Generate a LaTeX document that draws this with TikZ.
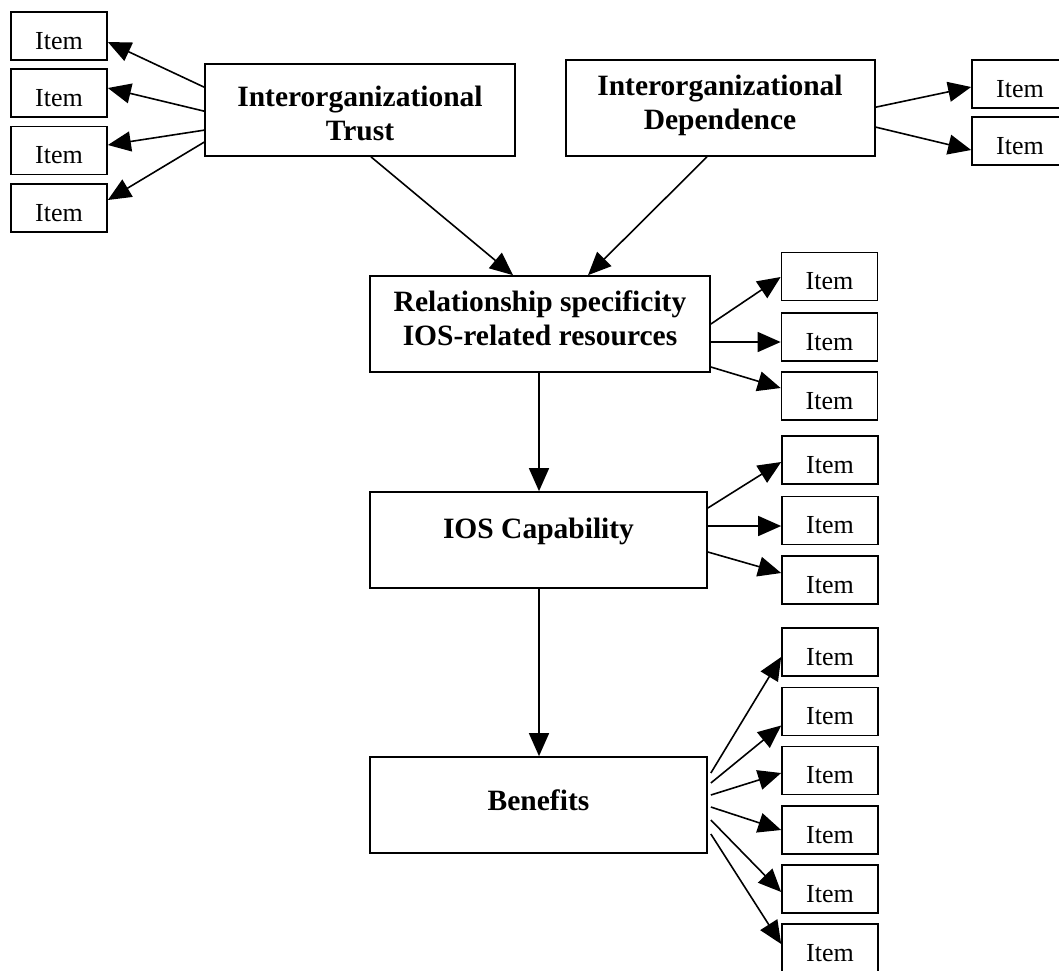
\documentclass[tikz,border=0pt]{standalone}
\usepackage{fontspec}
\setmainfont{Liberation Serif}
\usetikzlibrary{arrows.meta,calc}
\begin{document}
\begin{tikzpicture}[x=1pt,y=-1pt,
  box/.style={draw, line width=1.7pt, rectangle, inner sep=0pt},
  item/.style={box, minimum width=96pt, minimum height=48pt,
    font=\fontsize{26}{30}\selectfont, text height=26pt, text depth=0pt},
  btext/.style={font=\bfseries\fontsize{29.5}{34}\selectfont, anchor=base, inner sep=0pt},
  arr/.style={line width=1.6pt, -{Triangle[length=23pt,width=20pt]}}]
\path[use as bounding box] (0,0) rectangle (1059,970);

% left items
\node[item] (t1) at (59,36) {Item};
\node[item] (t2) at (59,93) {Item};
\node[item] (t3) at (59,150.5) {Item};
\node[item] (t4) at (59,208) {Item};

% trust
\node[box, minimum width=310pt, minimum height=92pt] (trust) at (360,110) {};
\node[btext] (trustA) at (360,106) {Interorganizational};
\node[btext] (trustB) at (360,140) {Trust};

% dependence
\node[box, minimum width=309pt, minimum height=96pt] (dep) at (720.5,108) {};
\node[btext] (depA) at (720,95) {Interorganizational};
\node[btext] (depB) at (720,129) {Dependence};

% right items
\node[item] (r1) at (1020,84) {Item};
\node[item] (r2) at (1020,141) {Item};

% relationship
\node[box, minimum width=340pt, minimum height=96pt] (rel) at (540,324) {};
\node[btext] (relA) at (540,311) {Relationship specificity};
\node[btext] (relB) at (540,345) {IOS-related resources};
\node[item] (ri1) at (829.5,276.5) {Item};
\node[item] (ri2) at (829.5,337) {Item};
\node[item] (ri3) at (829.5,396) {Item};

% capability
\node[box, minimum width=337pt, minimum height=96pt] (cap) at (538.5,540) {};
\node[btext] (capA) at (538.5,538) {IOS Capability};
\node[item] (ci1) at (830,460) {Item};
\node[item] (ci2) at (830,520.5) {Item};
\node[item] (ci3) at (830,580) {Item};

% benefits
\node[box, minimum width=337pt, minimum height=96pt] (ben) at (538.5,805) {};
\node[btext] (benA) at (538.5,810) {Benefits};
\node[item] (bi1) at (830,652) {Item};
\node[item] (bi2) at (830,711.5) {Item};
\node[item] (bi3) at (830,770.5) {Item};
\node[item] (bi4) at (830,830) {Item};
\node[item] (bi5) at (830,889) {Item};
\node[item] (bi6) at (830,948) {Item};

% trust -> left items
\draw[arr] ($(trust.north west)+(0,24)$) -- ($(t1.east)+(0,6)$);
\draw[arr] ($(trust.north west)+(0,48)$) -- ($(t2.east)+(0,-5)$);
\draw[arr] ($(trust.north west)+(0,67)$) -- ($(t3.east)+(0,-5.5)$);
\draw[arr] ($(trust.north west)+(0,79)$) -- ($(t4.east)+(0,-8)$);

% dependence -> right items
\draw[arr] ($(dep.north east)+(0,48)$) -- ($(r1.west)+(0,3)$);
\draw[arr] ($(dep.north east)+(0,68)$) -- ($(r2.west)+(0,9)$);

% into relationship
\draw[arr] ($(trust.south)+(11,0)$) -- ($(rel.north)+(-27,0)$);
\draw[arr] ($(dep.south)+(-13.5,0)$) -- ($(rel.north)+(48,0)$);

% relationship items
\draw[arr] ($(rel.east)+(0,0)$) -- ($(ri1.west)+(0,0.5)$);
\draw[arr] ($(rel.east)+(0,18)$) -- ($(ri2.west)+(0,5)$);
\draw[arr] ($(rel.east)+(0,43)$) -- ($(ri3.west)+(0,-8)$);

% rel -> cap -> ben
\draw[arr] ($(rel.south)+(-1,0)$) -- ($(cap.north)+(0.5,0)$);
\draw[arr] ($(cap.south)+(0.5,0)$) -- ($(ben.north)+(0.5,0)$);

% capability items
\draw[arr] ($(cap.east)+(0,-32)$) -- ($(ci1.west)+(0,2)$);
\draw[arr] ($(cap.east)+(0,-14)$) -- ($(ci2.west)+(0,5.5)$);
\draw[arr] ($(cap.east)+(0,12)$) -- ($(ci3.west)+(0,-7)$);

% benefits items
\draw[arr] ($(ben.east)+(3,-32)$) -- ($(bi1.west)+(0,5)$);
\draw[arr] ($(ben.east)+(3,-22)$) -- ($(bi2.west)+(0,14)$);
\draw[arr] ($(ben.east)+(3,-10)$) -- ($(bi3.west)+(0,2.5)$);
\draw[arr] ($(ben.east)+(3,2)$) -- ($(bi4.west)+(0,0)$);
\draw[arr] ($(ben.east)+(3,15)$) -- ($(bi5.west)+(0,3)$);
\draw[arr] ($(ben.east)+(3,29)$) -- ($(bi6.west)+(0,-4)$);
\end{tikzpicture}
\end{document}
